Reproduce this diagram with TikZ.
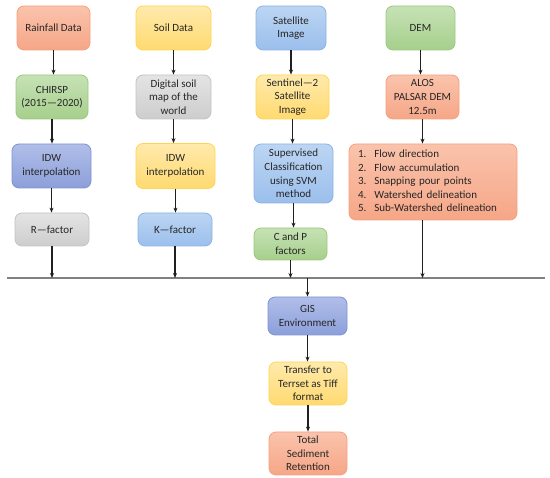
\documentclass[tikz,border=0pt]{standalone}
\usepackage{fontspec}
\setmainfont{Carlito}
\usetikzlibrary{arrows.meta, positioning}
\definecolor{wsText}{HTML}{262626}
\definecolor{wsArrow}{HTML}{1F1F1F}
\definecolor{wsBus}{HTML}{808080}
\definecolor{salTop}{HTML}{FAC3AC}
\definecolor{salBot}{HTML}{F6A687}
\definecolor{salLine}{HTML}{F4A17F}
\definecolor{grnTop}{HTML}{C6E2B5}
\definecolor{grnBot}{HTML}{A6CF8C}
\definecolor{grnLine}{HTML}{9CC97E}
\definecolor{ylwTop}{HTML}{FFEAAC}
\definecolor{ylwBot}{HTML}{FFDA70}
\definecolor{ylwLine}{HTML}{FFD453}
\definecolor{lbTop}{HTML}{BCD5F3}
\definecolor{lbBot}{HTML}{9BBFEC}
\definecolor{lbLine}{HTML}{8DB3E2}
\definecolor{dbTop}{HTML}{B0BEE8}
\definecolor{dbBot}{HTML}{8C9FDA}
\definecolor{dbLine}{HTML}{8093D3}
\definecolor{gryTop}{HTML}{E4E4E4}
\definecolor{gryBot}{HTML}{CDCDCD}
\definecolor{gryLine}{HTML}{C3C3C3}
\tikzset{
  box/.style        = {rectangle, rounded corners=7pt, line width=0.8pt,
                       align=center, inner xsep=2pt, inner ysep=1pt,
                       text=wsText, font=\fontsize{11}{13.6}\selectfont},
  sz/.style 2 args  = {minimum width=#1pt, minimum height=#2pt},
  salbox/.style     = {box, draw=salLine, top color=salTop, bottom color=salBot},
  grnbox/.style     = {box, draw=grnLine, top color=grnTop, bottom color=grnBot},
  ylwbox/.style     = {box, draw=ylwLine, top color=ylwTop, bottom color=ylwBot},
  lbbox/.style      = {box, draw=lbLine,  top color=lbTop,  bottom color=lbBot},
  dbbox/.style      = {box, draw=dbLine,  top color=dbTop,  bottom color=dbBot},
  grybox/.style     = {box, draw=gryLine, top color=gryTop, bottom color=gryBot},
  flow/.style       = {-{Stealth[length=5pt, width=4pt]}, line width=1.1pt, wsArrow},
  busline/.style    = {line width=1.3pt, wsBus},
}
\begin{document}
\begin{tikzpicture}[x=1pt, y=-1pt]
\useasboundingbox (0,0) rectangle (550,478);

% ---- rainfall column -------------------------------------------------------
\node[salbox, sz={73}{44}] (rain)  at (53.5,28)  {Rainfall Data};
\node[grnbox, sz={72}{44}] (chirsp) at (52,97)   {CHIRSP\\(2015\textemdash2020)};
\node[dbbox,  sz={79}{44}] (idwR)  at (51.5,166) {IDW\\interpolation};
\node[grybox, sz={74}{33}] (rfac)  at (52,229.5) {R\textemdash factor};

% ---- soil column -----------------------------------------------------------
\node[ylwbox, sz={75}{44}] (soil)  at (173.5,28)  {Soil Data};
\node[grybox, sz={75}{44}] (dsmw)  at (173.5,97)  {Digital soil\\map of the\\world};
\node[ylwbox, sz={79}{45}] (idwK)  at (175.5,166) {IDW\\interpolation};
\node[lbbox,  sz={74}{33}] (kfac)  at (175,229.5) {K\textemdash factor};

% ---- satellite column ------------------------------------------------------
\node[lbbox,  sz={70}{44}] (sat)   at (291,28)    {Satellite\\Image};
\node[ylwbox, sz={73}{44}] (senti) at (292.5,97)  {Sentinel\textemdash 2\\Satellite\\Image};
\node[lbbox,  sz={79}{59}] (svm)   at (293.5,173.5) {Supervised\\Classification\\using SVM\\method};
\node[grnbox, sz={73}{32}] (cpfac) at (290.5,244) {C and P\\factors};

% ---- DEM column ------------------------------------------------------------
\node[grnbox, sz={69}{44}] (dem)   at (420.5,28)  {DEM};
\node[salbox, sz={73}{44}] (alos)  at (422.5,97)  {ALOS\\PALSAR DEM\\12.5m};
\node[salbox, sz={168}{76}, text width=150pt, inner xsep=9pt, align=left] (steps) at (433,182)
  {\begin{tabular}{@{}l@{\hspace{8pt}}l@{}}
   1. & Flow direction\\
   2. & Flow accumulation\\
   3. & Snapping pour points\\
   4. & Watershed delineation\\
   5. & Sub-Watershed delineation
   \end{tabular}};

% ---- collecting line and output chain --------------------------------------
\coordinate (busL) at (7,278);
\coordinate (busR) at (545,278);
\draw[busline] (busL) -- (busR);

\node[dbbox,  sz={79}{38}] (gis)   at (307.5,316)   {GIS\\Environment};
\node[ylwbox, sz={78}{43}] (tiff)  at (308,383.5)   {Transfer to\\Terrset as Tiff\\format};
\node[salbox, sz={78}{43}] (tsr)   at (308,453.5)   {Total\\Sediment\\Retention};

% ---- arrows ----------------------------------------------------------------
\draw[flow] (rain.south)   -- (rain.south |- chirsp.north);
\draw[flow] (chirsp.south) -- (chirsp.south |- idwR.north);
\draw[flow] (idwR.south)   -- (idwR.south |- rfac.north);
\draw[flow] (rfac.south)   -- (rfac.south |- busL);

\draw[flow] (soil.south)   -- (soil.south |- dsmw.north);
\draw[flow] (dsmw.south)   -- (dsmw.south |- idwK.north);
\draw[flow] (idwK.south)   -- (idwK.south |- kfac.north);
\draw[flow] (kfac.south)   -- (kfac.south |- busL);

\draw[flow] (sat.south)    -- (sat.south |- senti.north);
\draw[flow] (senti.south)  -- (senti.south |- svm.north);
\draw[flow] (svm.south)    -- (svm.south |- cpfac.north);
\draw[flow] (cpfac.south)  -- (cpfac.south |- busL);

\draw[flow] (dem.south)    -- (dem.south |- alos.north);
\draw[flow] (alos.south)   -- (alos.south |- steps.north);
\draw[flow] (alos.south |- steps.south) -- (alos.south |- busL);

\draw[flow] (gis.north |- busL) -- (gis.north);
\draw[flow] (gis.south)    -- (gis.south |- tiff.north);
\draw[flow] (tiff.south)   -- (tiff.south |- tsr.north);

\end{tikzpicture}
\end{document}
